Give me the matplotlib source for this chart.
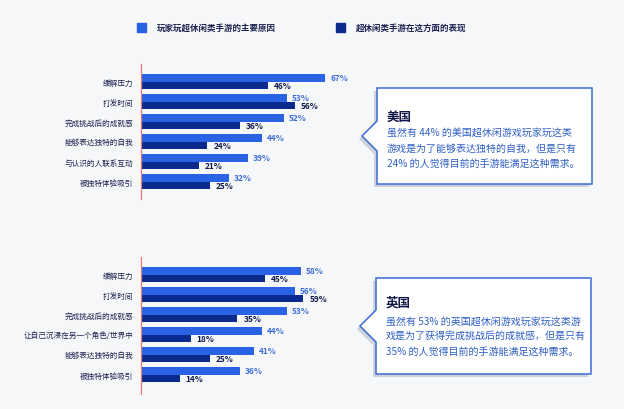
import matplotlib
matplotlib.use("Agg")
import matplotlib.pyplot as plt
from matplotlib.patches import Polygon, Rectangle

plt.rcParams['font.family'] = ['Noto Sans CJK SC', 'DejaVu Sans']

legend_labels = ['玩家玩超休闲类手游的主要原因', '超休闲类手游在这方面的表现']

top_categories = ['缓解压力', '打发时间', '完成挑战后的成就感', '能够表达独特的自我',
                  '与认识的人联系互动', '被独特体验吸引']
top_reasons = [67, 53, 52, 44, 39, 32]
top_perf = [46, 56, 36, 24, 21, 25]

bottom_categories = ['缓解压力', '打发时间', '完成挑战后的成就感', '让自己沉浸在另一个角色/世界中',
                     '能够表达独特的自我', '被独特体验吸引']
bottom_reasons = [58, 56, 53, 44, 41, 36]
bottom_perf = [45, 59, 35, 18, 25, 14]

top_title = '美国'
top_lines = ['虽然有 44% 的美国超休闲游戏玩家玩这类',
             '游戏是为了能够表达独特的自我，但是只有',
             '24% 的人觉得目前的手游能满足这种需求。']
bottom_title = '英国'
bottom_lines = ['虽然有 53% 的英国超休闲游戏玩家玩这类游',
                '戏是为了获得完成挑战后的成就感，但是只有',
                '35% 的人觉得目前的手游能满足这种需求。']

C_LIGHT = '#2962e3'
C_DARK = '#0b2a8e'
C_LIGHT_TXT = '#3f6fd6'
C_DARK_TXT = '#0e1a4c'
C_LABEL = '#1c2250'
BG = '#f6f7f9'

W, H = 624, 410
fig = plt.figure(figsize=(W / 100, H / 100), dpi=100)
fig.patch.set_facecolor(BG)

# overlay in pixel coordinates
ov = fig.add_axes([0, 0, 1, 1], zorder=0)
ov.set_xlim(0, W)
ov.set_ylim(H, 0)
ov.axis('off')
ov.patch.set_alpha(0)


def bar_panel(top_px, bot_px, ylim_bottom, cats, reasons, perf):
    ax = fig.add_axes([141 / W, 1 - bot_px / H, 275 / W, (bot_px - top_px) / H], zorder=2)
    ax.patch.set_alpha(0)
    n = len(cats)
    ys = list(range(n))
    h = 0.375
    ax.barh([y - h / 2 for y in ys], reasons, height=h, color=C_LIGHT)
    ax.barh([y + h / 2 for y in ys], perf, height=h, color=C_DARK)
    ax.set_xlim(0, 100)
    ax.set_ylim(ylim_bottom, -0.875)
    for y, v in zip(ys, reasons):
        ax.annotate(f'{v}%', (v, y - h / 2), xytext=(3.6, 0), textcoords='offset points',
                    ha='left', va='center', fontsize=6, fontweight='bold', color=C_LIGHT_TXT)
    for y, v in zip(ys, perf):
        ax.annotate(f'{v}%', (v, y + h / 2), xytext=(4.5, 0), textcoords='offset points',
                    ha='left', va='center', fontsize=6, fontweight='bold', color=C_DARK_TXT)
    ax.set_yticks(ys)
    ax.set_yticklabels(cats, fontsize=5.5, color=C_LABEL)
    ax.tick_params(axis='y', length=0, pad=5.5)
    ax.set_xticks([])
    for s in ['top', 'right', 'bottom']:
        ax.spines[s].set_visible(False)
    ax.spines['left'].set_color('#f07878')
    ax.spines['left'].set_linewidth(0.9)
    return ax


bar_panel(65, 200, 5.875, top_categories, top_reasons, top_perf)
bar_panel(258, 395, 5.975, bottom_categories, bottom_reasons, bottom_perf)

# legend
for (x0, txt_x, col), lab in zip([(137, 157, C_LIGHT), (336, 356, C_DARK)], legend_labels):
    ov.add_patch(Rectangle((x0, 24), 9, 9, color=col))
    ov.text(txt_x, 28.5, lab, fontsize=6.1, fontweight='bold', color=C_LABEL,
            ha='left', va='center')


def callout(x0, x1, y0, y1, tip_x, tip_y, notch, title, title_y, lines, line_ys):
    pts = [(x0, y0), (x1, y0), (x1, y1), (x0, y1), (x0, tip_y + notch),
           (tip_x, tip_y), (x0, tip_y - notch)]
    shadow = [(x - 3, y + 3) for x, y in pts]
    ov.add_patch(Polygon(shadow, closed=True, facecolor='#cdd1db', edgecolor='none', zorder=1))
    ov.add_patch(Polygon(pts, closed=True, facecolor='white', edgecolor='#3a6ad6',
                         linewidth=1.1, zorder=2))
    ov.text(x0 + 10, title_y, title, fontsize=9, fontweight='bold', color='#111848',
            ha='left', va='center', zorder=3)
    for ln, yy in zip(lines, line_ys):
        ov.text(x0 + 10, yy, ln, fontsize=7.2, color='#2e5fc6', ha='left', va='center', zorder=3)


callout(377, 592, 89, 185, 362, 137, 15, top_title, 117, top_lines, [133, 149, 164])
callout(376, 591, 279, 375, 360, 327, 16, bottom_title, 303, bottom_lines, [322, 337, 352])

fig.savefig('out.png', dpi=100, facecolor=BG)
